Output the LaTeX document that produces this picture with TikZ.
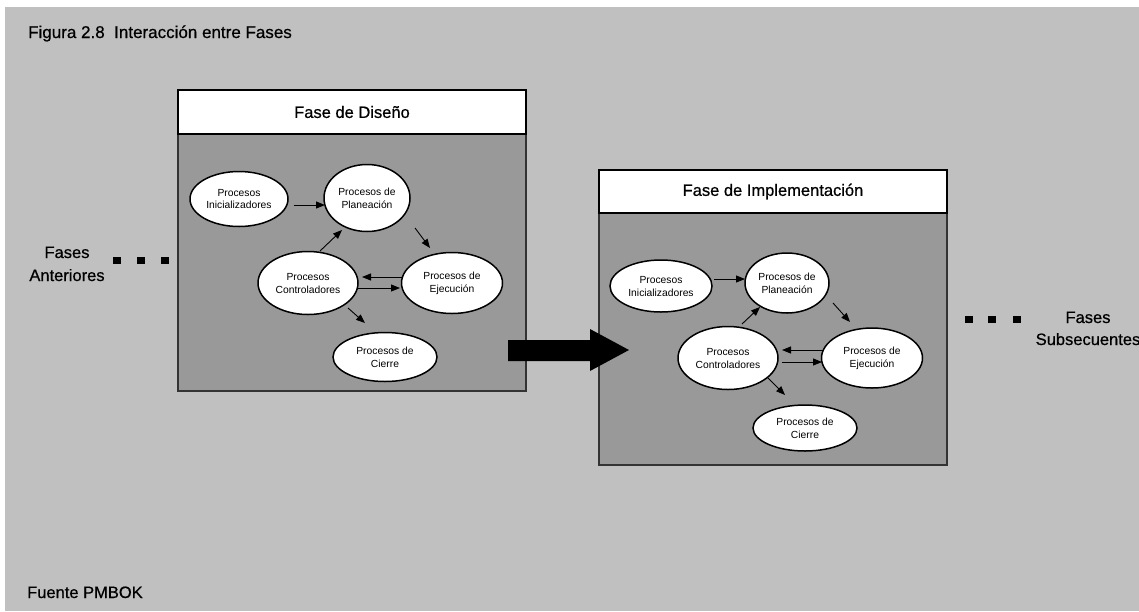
\documentclass[tikz,border=0pt]{standalone}
\usepackage{fontspec}
\setmainfont{Liberation Sans}[BoldFont={Liberation Sans}, BoldFeatures={FakeBold=0.6}]
\usetikzlibrary{shapes.geometric,arrows.meta}
\definecolor{bgc}{HTML}{C0C0C0}
\definecolor{bodyc}{HTML}{999999}
\definecolor{edgec}{HTML}{333333}
\begin{document}
\begin{tikzpicture}[x=1pt,y=-1pt,
  proc/.style={ellipse, draw=black, line width=1.5pt, fill=white, inner sep=0pt, outer sep=0pt,
    font=\fontsize{10.3}{13}\selectfont, align=center},
  arr/.style={line width=0.9pt, -{Triangle[length=9pt,width=7pt]}},
  hdrbox/.style={draw=black, line width=2pt, fill=white, inner sep=0pt, outer sep=0pt,
    anchor=north west, minimum width=348pt, font=\fontsize{16.5}{20}\selectfont\bfseries},
  bodybox/.style={draw=edgec, line width=1.5pt, fill=bodyc, inner sep=0pt, outer sep=0pt,
    anchor=north west, minimum width=348pt},
  side/.style={font=\fontsize{16.5}{20}\selectfont\bfseries, anchor=base, inner sep=0pt},
  sq/.style={fill=black}
]
\useasboundingbox (0,0) rectangle (1139,611);
\fill[bgc] (5,7) rectangle (1139,611);

\node[anchor=base west, inner sep=0pt, font=\fontsize{17}{20}\selectfont\bfseries] (title) at (28,38) {Figura 2.8\ \ Interacción entre Fases};
\node[anchor=base west, inner sep=0pt, font=\fontsize{16.5}{20}\selectfont\bfseries] (src) at (27,598) {Fuente PMBOK};

% ---------- Box 1
\node[bodybox, minimum height=257pt] (b1) at (178,134) {};
\node[hdrbox, minimum height=44pt] (h1) at (178,90) {Fase de Diseño};

\node[proc, minimum width=98pt, minimum height=55pt] (ini1) at (239,199) {Procesos\\Inicializadores};
\node[proc, minimum width=86pt, minimum height=67pt] (plan1) at (367,198) {Procesos de\\Planeación};
\node[proc, minimum width=100pt, minimum height=63pt] (ctrl1) at (308,283) {Procesos\\Controladores};
\node[proc, minimum width=101pt, minimum height=61pt] (ejec1) at (452,283) {Procesos de\\Ejecución};
\node[proc, minimum width=104pt, minimum height=49pt] (cie1) at (385,357) {Procesos de\\Cierre};

\draw[arr] ([shift={(55,6)}]ini1.center) -- ([shift={(-42,7)}]plan1.center);
\draw[arr] ([shift={(48,30)}]plan1.center) -- ([shift={(-22,-35)}]ejec1.center);
\draw[arr] ([shift={(12,-32)}]ctrl1.center) -- ([shift={(-25,32)}]plan1.center);
\draw[arr] ([shift={(-49,-6)}]ejec1.center) -- ([shift={(54,-6)}]ctrl1.center);
\draw[arr] ([shift={(50,5)}]ctrl1.center) -- ([shift={(-52,5)}]ejec1.center);
\draw[arr] ([shift={(40,25)}]ctrl1.center) -- ([shift={(-20,-34)}]cie1.center);

% ---------- Box 2
\node[bodybox, minimum height=252pt] (b2) at (599,213) {};
\node[hdrbox, minimum height=43pt] (h2) at (599,170) {Fase de Implementación};

\node[proc, minimum width=102pt, minimum height=52pt] (ini2) at (661,286) {Procesos\\Inicializadores};
\node[proc, minimum width=84pt, minimum height=60pt] (plan2) at (787,283) {Procesos de\\Planeación};
\node[proc, minimum width=100pt, minimum height=63pt] (ctrl2) at (728,358) {Procesos\\Controladores};
\node[proc, minimum width=101pt, minimum height=60pt] (ejec2) at (872,358) {Procesos de\\Ejecución};
\node[proc, minimum width=104pt, minimum height=46pt] (cie2) at (805,428) {Procesos de\\Cierre};

\draw[arr] ([shift={(53,-7)}]ini2.center) -- ([shift={(-42,-4)}]plan2.center);
\draw[arr] ([shift={(46,20)}]plan2.center) -- ([shift={(-22,-36)}]ejec2.center);
\draw[arr] ([shift={(14,-34)}]ctrl2.center) -- ([shift={(-27,24)}]plan2.center);
\draw[arr] ([shift={(-49,-8)}]ejec2.center) -- ([shift={(54,-8)}]ctrl2.center);
\draw[arr] ([shift={(54,4)}]ctrl2.center) -- ([shift={(-50,4)}]ejec2.center);
\draw[arr] ([shift={(40,20)}]ctrl2.center) -- ([shift={(-20,-33)}]cie2.center);

% ---------- big arrow between phases
\fill[black] (508,340) -- (590,340) -- (590,329) -- (629,350) -- (590,371) -- (590,361) -- (508,361) -- cycle;

% ---------- side labels
\node[side] (fa1) at (67,258) {Fases};
\node[side] (fa2) at (67,281) {Anteriores};
\fill[sq] (113,257) rectangle (121,264);
\fill[sq] (137,257) rectangle (145,264);
\fill[sq] (161,257) rectangle (169,264);

\node[side] (fs1) at (1088,323) {Fases};
\node[side] (fs2) at (1088,345) {Subsecuentes};
\fill[sq] (965,316) rectangle (973,323);
\fill[sq] (988,316) rectangle (996,323);
\fill[sq] (1013,316) rectangle (1021,323);
\end{tikzpicture}
\end{document}
